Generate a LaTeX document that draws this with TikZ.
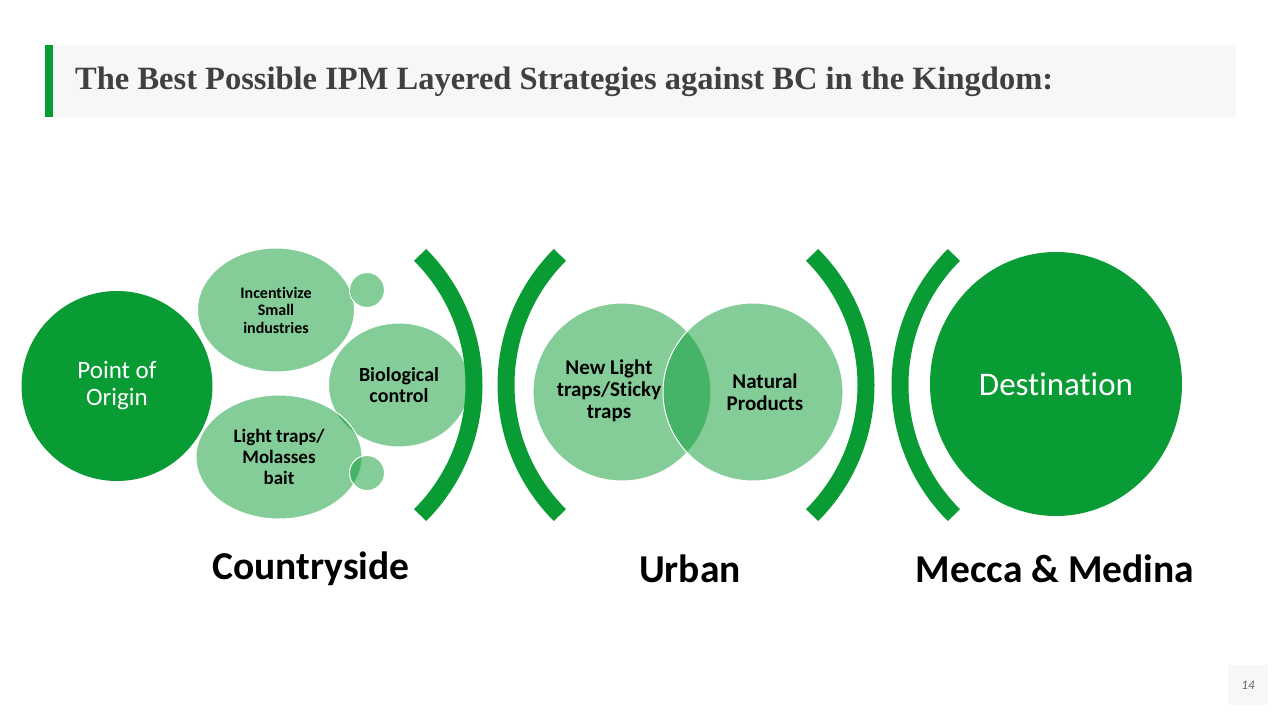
\documentclass[tikz,border=0pt]{standalone}
\usepackage{fontspec}
\setmainfont{Carlito}[Ligatures=NoCommon]
\newfontfamily\titlefont{Liberation Serif}
\usetikzlibrary{shapes.geometric}
\definecolor{leafgreen}{RGB}{9,155,52}
\definecolor{titlegray}{RGB}{64,64,64}
\definecolor{bandgray}{RGB}{247,247,247}

\begin{document}
\begin{tikzpicture}[x=1pt,y=-1pt]
  \tikzset{
    bigdisc/.style={ellipse,fill=leafgreen,text=white,inner sep=0pt,align=center},
    softdisc/.style={ellipse,fill=leafgreen,fill opacity=0.5,text opacity=1,
                     draw=white,line width=1pt,inner sep=0pt,align=center,
                     font=\bfseries\fontsize{19}{21}\selectfont},
    dot/.style={softdisc,minimum width=35pt,minimum height=35pt},
    bracket/.style={draw=leafgreen,line width=17pt},
    zone/.style={font=\bfseries\fontsize{39.5}{42}\selectfont},
  }
  \useasboundingbox (0,0) rectangle (1280,720);
  % ---- title band ----
  \fill[bandgray] (47,45) rectangle (1236,117);
  \fill[leafgreen] (45,45) rectangle (53,117);
  \node[anchor=base west,inner sep=0pt,text=titlegray,
        font=\titlefont\bfseries\fontsize{32.5}{38}\selectfont] (title) at (75,89)
       {The Best Possible IPM Layered Strategies against BC in the Kingdom:};
  % ---- countryside ----
  \node[bigdisc,minimum width=191pt,minimum height=190pt,
        font=\fontsize{25}{27}\selectfont] (origin) at (117,386) {Point of\\Origin};
  \node[softdisc,minimum width=157pt,minimum height=124pt,
        font=\bfseries\fontsize{16}{17.5}\selectfont] (incent) at (276,310)
       {Incentivize\\Small\\industries};
  \node[dot] (dotA) at (367,290) {};
  \node[softdisc,minimum width=141pt,minimum height=124pt,
        font=\bfseries\fontsize{20}{21}\selectfont] (bio) at (399,385)
       {Biological\\control};
  \node[softdisc,minimum width=166pt,minimum height=124pt] (light) at (279,457)
       {Light traps/\\Molasses\\bait};
  \node[dot] (dotB) at (367,473) {};
  \draw[bracket] (290,385) ++(-45:184) arc (-45:45:184);
  % ---- urban ----
  \draw[bracket] (690,385) ++(135:184) arc (135:225:184);
  \node[softdisc,minimum width=178pt,minimum height=178pt] (newtraps) at (622,392) {};
  \node[softdisc,minimum width=180pt,minimum height=178pt,
        font=\bfseries\fontsize{21}{22}\selectfont] (natural) at (753,392)
       {\hspace*{24pt}Natural\\\hspace*{24pt}Products};
  \node[align=center,inner sep=0pt,font=\bfseries\fontsize{21}{22}\selectfont]
       (newtext) at (609,391) {New Light\\traps/Sticky\\traps};
  \draw[bracket] (682,385) ++(-45:184) arc (-45:45:184);
  % ---- destination ----
  \draw[bracket] (1084,385) ++(135:184) arc (135:225:184);
  \node[bigdisc,minimum width=252pt,minimum height=264pt,
        font=\fontsize{33}{36}\selectfont] (dest) at (1056,384) {Destination};
  % ---- zone labels ----
  \node[zone] (country) at (311,569) {Countryside};
  \node[zone] (urban) at (690,569) {Urban};
  \node[zone] (holy) at (1055,569) {Mecca \& Medina};
  % ---- page number ----
  \node[fill=bandgray,minimum width=40pt,minimum height=40pt,text=black!60,
        font=\itshape\fontsize{13}{15}\selectfont] (page) at (1248,685) {14};
\end{tikzpicture}
\end{document}
